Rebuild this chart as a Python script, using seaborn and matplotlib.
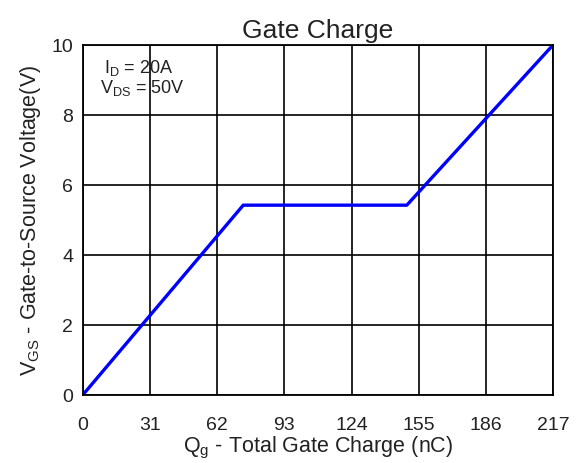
import matplotlib
matplotlib.use("Agg")
import matplotlib.pyplot as plt
import seaborn as sns
import pandas as pd

# gate charge curve
qg = [0, 74, 149.5, 217]
vgs = [0, 5.42, 5.42, 10]
x_ticks = [0, 31, 62, 93, 124, 155, 186, 217]
y_ticks = [0, 2, 4, 6, 8, 10]

sns.set_style("white")
plt.rcParams['font.family'] = ['Liberation Sans', 'DejaVu Sans']
plt.rcParams['mathtext.fontset'] = 'custom'
plt.rcParams['mathtext.rm'] = 'Liberation Sans'

df = pd.DataFrame({"Qg": qg, "Vgs": vgs})

fig = plt.figure(figsize=(5.84, 4.64), dpi=100)
ax = fig.add_axes([0.142, 0.147, 0.805, 0.754])
sns.lineplot(data=df, x="Qg", y="Vgs", ax=ax, color="#0000ff", linewidth=2.4, sort=False)

ax.set_xlim(0, 217)
ax.set_ylim(0, 10)
ax.set_xticks(x_ticks)
ax.set_yticks(y_ticks)
ax.grid(True, color="black", linewidth=1.2)
ax.set_axisbelow(True)
for s in ax.spines.values():
    s.set_color("black")
    s.set_linewidth(1.3)
ax.tick_params(axis="both", length=0, labelsize=14, colors="#222222")
ax.tick_params(axis="x", pad=15)
ax.tick_params(axis="y", pad=7)

ax.set_xlabel(r"Q$\mathregular{_g}$ - Total Gate Charge (nC)", fontsize=15.5, labelpad=1, color="#222222")
ax.set_ylabel(r"V$\mathregular{_{GS}}$ - Gate-to-Source Voltage(V)", fontsize=15.5, labelpad=6, color="#222222")
ax.set_title("Gate Charge", fontsize=19, pad=6, color="#222222")

ax.text(9.5, 9.37, r"I$\mathregular{_D}$ = 20A", fontsize=13, va="center", color="#222222")
ax.text(8, 8.8, r"V$\mathregular{_{DS}}$ = 50V", fontsize=13, va="center", color="#222222")

fig.savefig("out.png", dpi=100)
